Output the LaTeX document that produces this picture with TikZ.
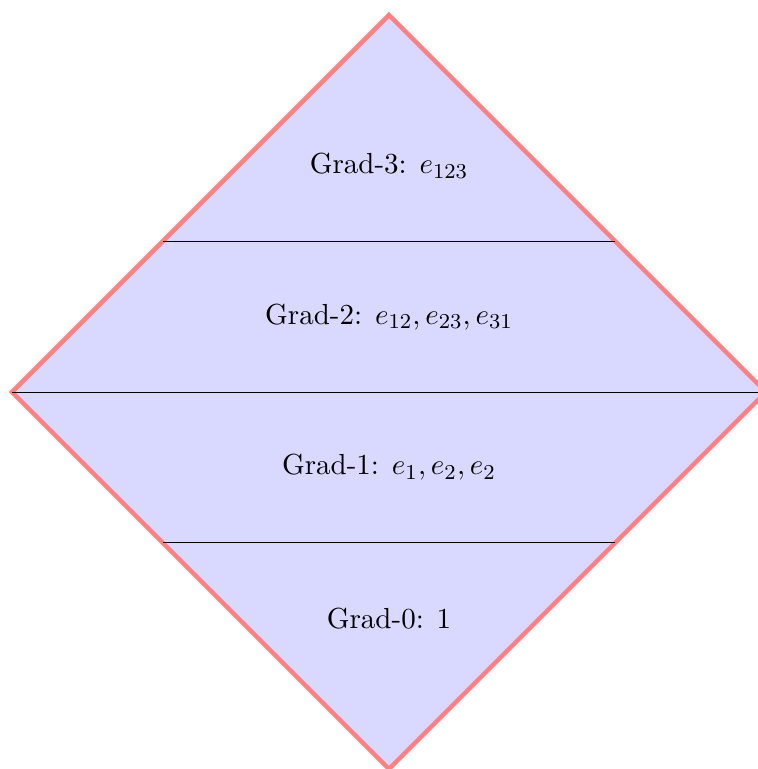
\documentclass[tikz,border=0pt]{standalone}
\begin{document}
\begin{tikzpicture}
\tikzset{
  diamondshape/.style={fill=blue!15, draw=red!50, line width=1.7pt, line join=miter},
  gradline/.style={black, thin},
  gradlabel/.style={inner sep=2pt, font=\fontsize{10.95}{13.6}\selectfont}
}
\useasboundingbox (-5.16,-5.0) rectangle (4.89,5.2);
\coordinate (T) at (0,5);
\coordinate (R) at (5,0);
\coordinate (B) at (0,-5);
\coordinate (L) at (-5,0);
\coordinate (u1) at (-3,2);
\coordinate (u2) at (3,2);
\coordinate (d1) at (-3,-2);
\coordinate (d2) at (3,-2);
\draw[diamondshape] (T) -- (R) -- (B) -- (L) -- cycle;
\draw[gradline] (u1) -- (u2);
\draw[gradline] (L) -- (R);
\draw[gradline] (d1) -- (d2);
\node[gradlabel] (g3) at (0,3) {Grad-3: $e_{123}$};
\node[gradlabel] (g2) at (0,1) {Grad-2: $e_{12}, e_{23}, e_{31}$};
\node[gradlabel] (g1) at (0,-1) {Grad-1: $e_{1}, e_{2}, e_{2}$};
\node[gradlabel] (g0) at (0,-3) {Grad-0: 1};
\end{tikzpicture}
\end{document}
